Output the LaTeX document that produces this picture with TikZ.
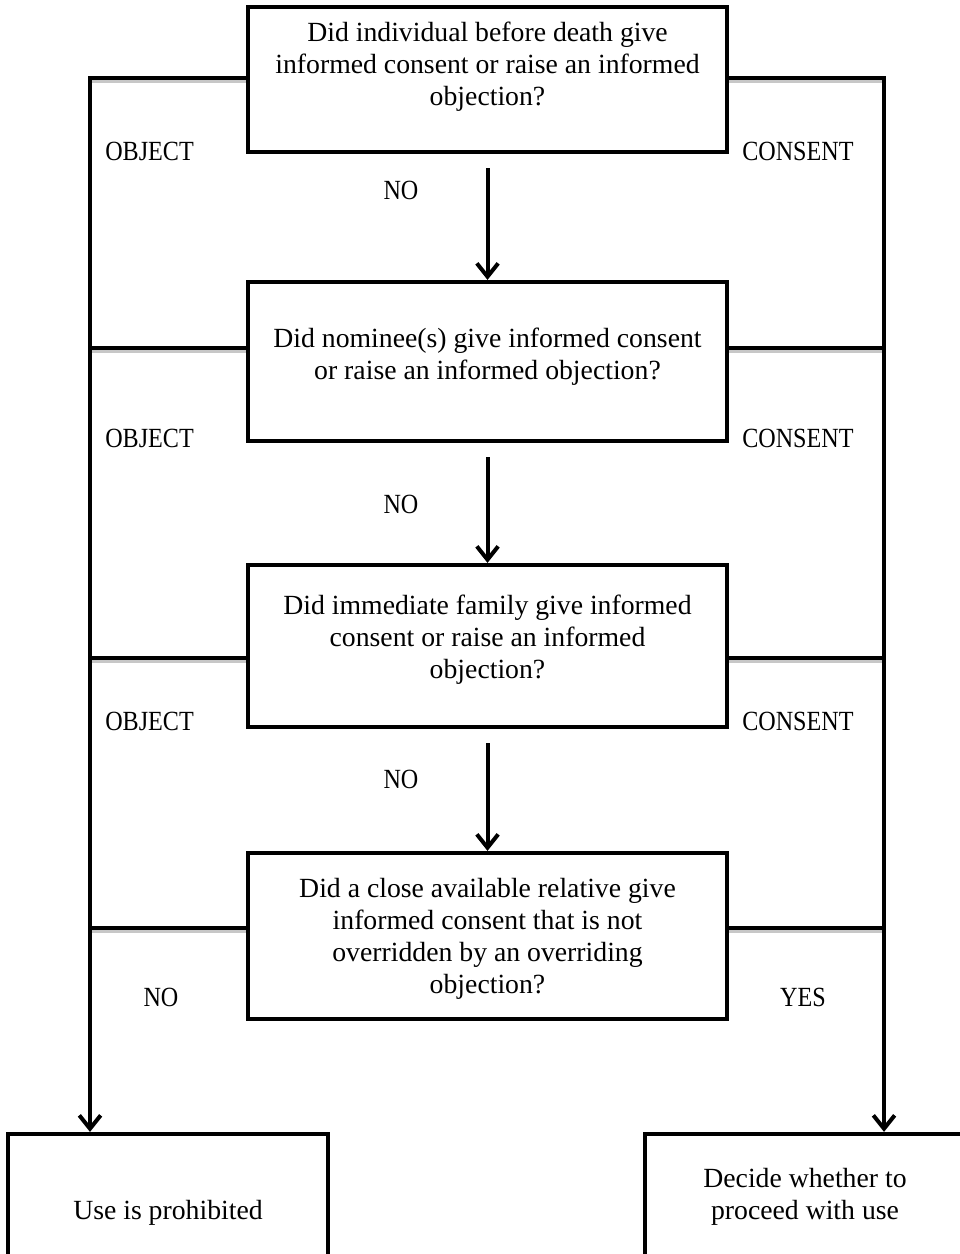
\documentclass[tikz,border=0pt]{standalone}
\usepackage{fontspec}
\setmainfont{Liberation Serif}
\newfontfamily\capsfont[FakeStretch=0.87]{Liberation Serif}
\usepackage{tikz}
\usetikzlibrary{arrows.meta}
\tikzstyle{qbox} = [draw, rectangle, line width=3.2pt, inner sep=0pt]
\tikzstyle{qtext} = [align=center, inner sep=0pt, font=\fontsize{20.8pt}{24pt}\selectfont]
\tikzstyle{lbl} = [inner sep=0pt, font=\capsfont\fontsize{20.8pt}{24pt}\selectfont]
\tikzstyle{rail} = [line width=3pt]
\tikzstyle{ghost} = [line width=1.6pt, draw=black!22]
\tikzstyle{es} = [line width=3pt, -{Straight Barb[length=10pt,width=16pt,line width=3pt]}]

\begin{document}
\begin{tikzpicture}[x=0.75pt,y=-0.75pt]
			\useasboundingbox (0,0) rectangle (960,1254);
			% question boxes
			\node[qbox, minimum width=359.25pt, minimum height=108.75pt] (q1) at (487.5,79.5) {};
			\node[qtext] (q1text) at (487.5,67) {Did individual before death give\\informed consent or raise an informed\\objection?};
			\node[qbox, minimum width=359.25pt, minimum height=119.25pt] (q2) at (487.5,361.5) {};
			\node[qtext] (q2text) at (487.5,357) {Did nominee(s) give informed consent\\or raise an informed objection?};
			\node[qbox, minimum width=359.25pt, minimum height=121.5pt] (q3) at (487.5,646) {};
			\node[qtext] (q3text) at (487.5,640) {Did immediate family give informed\\consent or raise an informed\\objection?};
			\node[qbox, minimum width=359.25pt, minimum height=124.5pt] (q4) at (487.5,936) {};
			\node[qtext] (q4text) at (487.5,939) {Did a close available relative give\\informed consent that is not\\overridden by an overriding\\objection?};
			% outcome boxes
			\node[qbox, minimum width=240pt, minimum height=105.75pt] (use) at (168,1204.5) {};
			\node[qtext] (usetext) at (168,1213) {Use is prohibited};
			\node[qbox, minimum width=247.5pt, minimum height=105.75pt] (dec) at (810,1204.5) {};
			\node[qtext] (dectext) at (805,1197) {Decide whether to\\proceed with use};
			% main line
			\draw[es] ([yshift=-10.5pt]q1.south) -- (q2.north);
			\draw[es] ([yshift=-10.5pt]q2.south) -- (q3.north);
			\draw[es] ([yshift=-10.5pt]q3.south) -- (q4.north);
			% side rails
			\foreach \y/\q in {81.5/q1,351.5/q2,661.5/q3,931.5/q4} {
				\draw[ghost] (90,\y) -- (\q.west |- 0,\y);
				\draw[ghost] (\q.east |- 0,\y) -- (884,\y);
			}
			\draw[es] (q1.west |- 0,78) -| (use.north -| 90,0);
			\draw[es] (q1.east |- 0,78) -| (dec.north -| 884,0);
			\foreach \y/\q in {348/q2,658/q3,928/q4} {
				\draw[rail] (\q.west |- 0,\y) -- (90,\y);
				\draw[rail] (\q.east |- 0,\y) -- (884,\y);
			}
			% labels
			\foreach \y [count=\i] in {151,438,721} {
				\node[lbl, anchor=west] (obj\i) at (105,\y) {OBJECT};
				\node[lbl, anchor=west] (con\i) at (742,\y) {CONSENT};
			}
			\foreach \y [count=\i] in {190,504,779} {
				\node[lbl] (no\i) at (401,\y) {NO};
			}
			\node[lbl] (nofinal) at (161,997) {NO};
			\node[lbl] (yesfinal) at (803,997) {YES};
		\end{tikzpicture}
\end{document}
